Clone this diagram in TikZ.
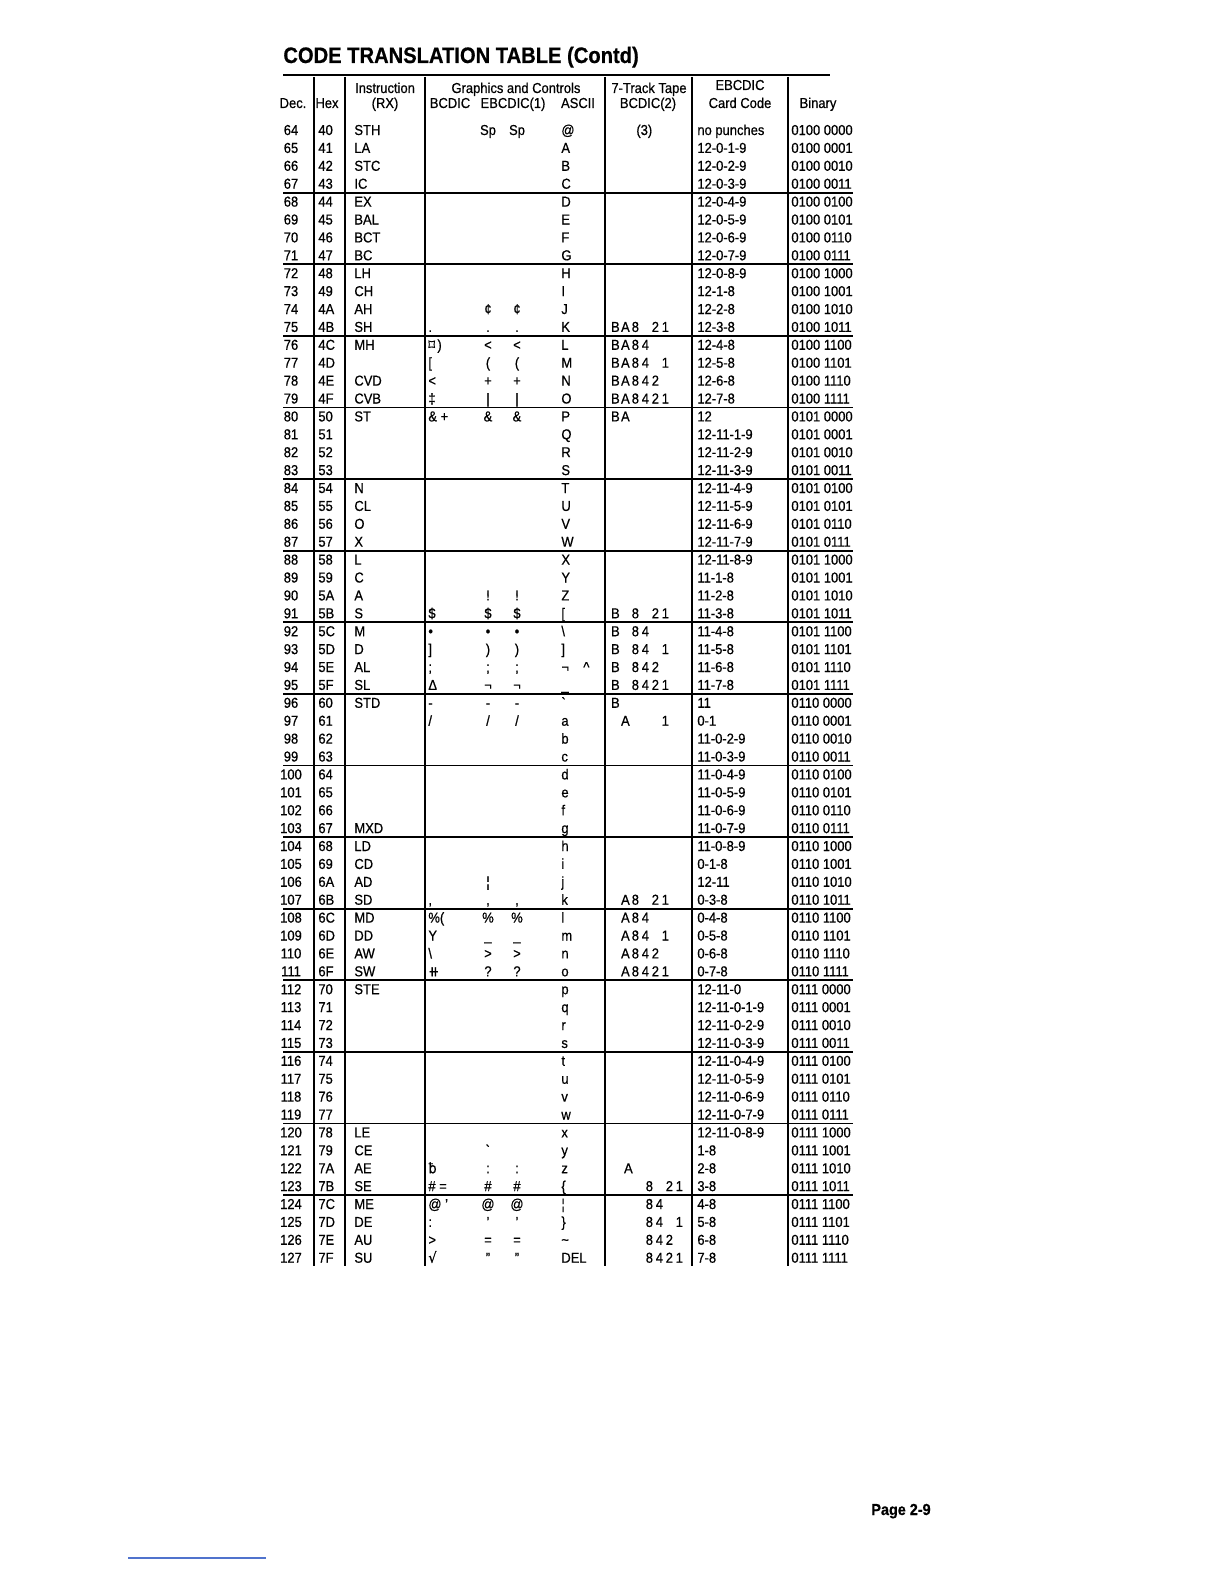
\documentclass[tikz,border=0pt]{standalone}
\usepackage{fontspec}
\setmainfont{Liberation Sans}[FakeStretch=0.9, FakeBold=0.6]
\newfontfamily\symfont{DejaVu Sans}[FakeStretch=0.9, FakeBold=0.6]
\definecolor{footrule}{RGB}{80,115,205}
\newcommand\tbslot[1]{\makebox[5pt]{#1}}
\newcommand\tb[6]{\tbslot{#1}\tbslot{#2}\tbslot{#3}\tbslot{#4}\tbslot{#5}\tbslot{#6}}

\begin{document}
\begin{tikzpicture}[x=0.5pt, y=-0.5pt,
    cell/.style={inner sep=0pt, anchor=base west, font=\fontsize{7.2}{8}\selectfont},
    mid/.style={cell, anchor=base},
    rule/.style={line width=0.9pt},
    colrule/.style={line width=0.8pt}
    ]
  \useasboundingbox (0,0) rectangle (1224,1584);
  \node[cell, font=\fontsize{11.2}{13}\selectfont\bfseries] (title) at (283,63) {CODE TRANSLATION TABLE (Contd)};
  % heading
  \node[mid] (hdec) at (293,108) {Dec.};
  \node[mid] (hhex) at (327,108) {Hex};
  \node[mid] (hins) at (385,93) {Instruction};
  \node[mid] (hrx) at (385,108) {(RX)};
  \node[mid] (hgra) at (516,93) {Graphics and Controls};
  \node[mid] (hbcd) at (450,108) {BCDIC};
  \node[mid] (hebc) at (513,108) {EBCDIC(1)};
  \node[mid] (hasc) at (578,108) {ASCII};
  \node[mid] (htrk) at (649,93) {7-Track Tape};
  \node[mid] (htbc) at (648,108) {BCDIC(2)};
  \node[mid] (hcrd) at (740,90) {EBCDIC};
  \node[mid] (hcco) at (740,108) {Card Code};
  \node[mid] (hbin) at (818,108) {Binary};
  % rules
  \draw[rule] (283,75) -- (830,75);
  \foreach \cx in {314,345,425,605,692,788}
    \draw[colrule] (\cx,77) -- (\cx,1266);
  \foreach \g in {67,71,...,123}
    \draw[rule] (283,{139+17.9*(\g-64)}) -- (853,{139+17.9*(\g-64)});
  % rows
  \foreach \dec/\hex/\ins/\bcd/\eba/\ebb/\asc/\tape/\card/\bin in {
    64/40/STH//Sp/Sp/@/\hspace*{13pt}(3)/no punches/0100 0000,
    65/41/LA////A//12-0-1-9/0100 0001,
    66/42/STC////B//12-0-2-9/0100 0010,
    67/43/IC////C//12-0-3-9/0100 0011,
    68/44/EX////D//12-0-4-9/0100 0100,
    69/45/BAL////E//12-0-5-9/0100 0101,
    70/46/BCT////F//12-0-6-9/0100 0110,
    71/47/BC////G//12-0-7-9/0100 0111,
    72/48/LH////H//12-0-8-9/0100 1000,
    73/49/CH////I//12-1-8/0100 1001,
    74/4A/AH//¢/¢/J//12-2-8/0100 1010,
    75/4B/SH/./././K/\tb{B}{A}{8}{}{2}{1}/12-3-8/0100 1011,
    76/4C/MH/{\symfont ⌑}\,)/</</L/\tb{B}{A}{8}{4}{}{}/12-4-8/0100 1100,
    77/4D//[/(/(/M/\tb{B}{A}{8}{4}{}{1}/12-5-8/0100 1101,
    78/4E/CVD/</+/+/N/\tb{B}{A}{8}{4}{2}{}/12-6-8/0100 1110,
    79/4F/CVB/‡/|/|/O/\tb{B}{A}{8}{4}{2}{1}/12-7-8/0100 1111,
    80/50/ST/\& +/\&/\&/P/\tb{B}{A}{}{}{}{}/12/0101 0000,
    81/51/////Q//12-11-1-9/0101 0001,
    82/52/////R//12-11-2-9/0101 0010,
    83/53/////S//12-11-3-9/0101 0011,
    84/54/N////T//12-11-4-9/0101 0100,
    85/55/CL////U//12-11-5-9/0101 0101,
    86/56/O////V//12-11-6-9/0101 0110,
    87/57/X////W//12-11-7-9/0101 0111,
    88/58/L////X//12-11-8-9/0101 1000,
    89/59/C////Y//11-1-8/0101 1001,
    90/5A/A//!/!/Z//11-2-8/0101 1010,
    91/5B/S/\$/\$/\$/[/\tb{B}{}{8}{}{2}{1}/11-3-8/0101 1011,
    92/5C/M/•/•/•/\textbackslash/\tb{B}{}{8}{4}{}{}/11-4-8/0101 1100,
    93/5D/D/]/)/)/]/\tb{B}{}{8}{4}{}{1}/11-5-8/0101 1101,
    94/5E/AL/;/;/;/¬\quad\textasciicircum/\tb{B}{}{8}{4}{2}{}/11-6-8/0101 1110,
    95/5F/SL/Δ/¬/¬/\_/\tb{B}{}{8}{4}{2}{1}/11-7-8/0101 1111,
    96/60/STD/-/-/-/\textasciigrave/\tb{B}{}{}{}{}{}/11/0110 0000,
    97/61//{/}/{/}/{/}/a/\tb{}{A}{}{}{}{1}/0-1/0110 0001,
    98/62/////b//11-0-2-9/0110 0010,
    99/63/////c//11-0-3-9/0110 0011,
    100/64/////d//11-0-4-9/0110 0100,
    101/65/////e//11-0-5-9/0110 0101,
    102/66/////f//11-0-6-9/0110 0110,
    103/67/MXD////g//11-0-7-9/0110 0111,
    104/68/LD////h//11-0-8-9/0110 1000,
    105/69/CD////i//0-1-8/0110 1001,
    106/6A/AD//¦//j//12-11/0110 1010,
    107/6B/SD/{,}/{,}/{,}/k/\tb{}{A}{8}{}{2}{1}/0-3-8/0110 1011,
    108/6C/MD/\%(/\%/\%/l/\tb{}{A}{8}{4}{}{}/0-4-8/0110 1100,
    109/6D/DD/Y/\_/\_/m/\tb{}{A}{8}{4}{}{1}/0-5-8/0110 1101,
    110/6E/AW/\textbackslash/>/>/n/\tb{}{A}{8}{4}{2}{}/0-6-8/0110 1110,
    111/6F/SW/{\symfont ⧺}/?/?/o/\tb{}{A}{8}{4}{2}{1}/0-7-8/0110 1111,
    112/70/STE////p//12-11-0/0111 0000,
    113/71/////q//12-11-0-1-9/0111 0001,
    114/72/////r//12-11-0-2-9/0111 0010,
    115/73/////s//12-11-0-3-9/0111 0011,
    116/74/////t//12-11-0-4-9/0111 0100,
    117/75/////u//12-11-0-5-9/0111 0101,
    118/76/////v//12-11-0-6-9/0111 0110,
    119/77/////w//12-11-0-7-9/0111 0111,
    120/78/LE////x//12-11-0-8-9/0111 1000,
    121/79/CE//\textasciigrave//y//1-8/0111 1001,
    122/7A/AE/{\symfont ƀ}/:/:/z/\hspace*{1.5pt}\tb{}{A}{}{}{}{}/2-8/0111 1010,
    123/7B/SE/\# =/\#/\#/\{/\hspace*{7pt}\tb{}{}{8}{}{2}{1}/3-8/0111 1011,
    124/7C/ME/@ '/@/@/¦/\hspace*{7pt}\tb{}{}{8}{4}{}{}/4-8/0111 1100,
    125/7D/DE/:/'/'/\}/\hspace*{7pt}\tb{}{}{8}{4}{}{1}/5-8/0111 1101,
    126/7E/AU/>/=/=/\textasciitilde/\hspace*{7pt}\tb{}{}{8}{4}{2}{}/6-8/0111 1110,
    127/7F/SU/{\symfont √}/"/"/DEL/\hspace*{7pt}\tb{}{}{8}{4}{2}{1}/7-8/0111 1111}
  {
    \pgfmathsetmacro\ry{135+17.9*(\dec-64)}
    \node[mid] (d\dec) at (291,\ry) {\dec};
    \node[cell] (x\dec) at (318,\ry) {\hex};
    \node[cell] (i\dec) at (354,\ry) {\ins};
    \node[cell] (b\dec) at (428,\ry) {\bcd};
    \node[mid] (e\dec) at (488,\ry) {\eba};
    \node[mid] (f\dec) at (517,\ry) {\ebb};
    \node[cell] (a\dec) at (561,\ry) {\asc};
    \node[cell] (t\dec) at (610,\ry) {\tape};
    \node[cell] (c\dec) at (697,\ry) {\card};
    \node[cell] (n\dec) at (791,\ry) {\bin};
  }
  % page foot
  \node[mid, font=\fontsize{8}{9}\selectfont\bfseries] (page) at (901,1515) {Page 2-9};
  \draw[footrule, line width=0.6pt] (128,1558) -- (266,1558);
\end{tikzpicture}
\end{document}
